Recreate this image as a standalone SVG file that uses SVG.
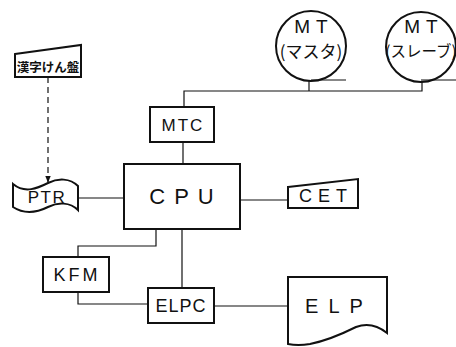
<svg xmlns="http://www.w3.org/2000/svg" width="456" height="347" viewBox="0 0 456 347">
<style>
.box{fill:#fff;stroke:#111;stroke-width:2}
.ln{fill:none;stroke:#111;stroke-width:1.2}
.t{font-family:"Liberation Sans",Arial,sans-serif;fill:#111;text-anchor:middle;dominant-baseline:central}
.j{font-family:"Noto Sans CJK JP",sans-serif;fill:#111;text-anchor:middle;dominant-baseline:central}
</style>
<defs>
<marker id="ah" viewBox="0 0 10 10" refX="9" refY="5" markerWidth="6" markerHeight="6" orient="auto">
<path d="M0,1 L10,5 L0,9 Z" fill="#111"/>
</marker>
</defs>
<rect width="456" height="347" fill="#fff"/>
<g id="connectors">
<path class="ln" d="M184,107 V91 H422 V80"/>
<path class="ln" d="M309,91 V80"/>
<path class="ln" d="M183,142 V164"/>
<path class="ln" d="M78,198 H124"/>
<path class="ln" d="M240,200 H288"/>
<path class="ln" d="M156,229 V246 H78 V257"/>
<path class="ln" d="M78,292 V304 H148"/>
<path class="ln" d="M182,229 V288"/>
<path class="ln" d="M214,306 H288"/>
<path class="ln" d="M48,77 V182" stroke-dasharray="6,4" marker-end="url(#ah)"/>
</g>
<g id="kanji">
<path class="box" d="M15,54 L81,45 L81,77 L15,77 Z"/>
<text class="j" x="48" y="66" font-size="12.5" font-weight="bold">漢字けん盤</text>
</g>
<g id="mt-master">
<circle class="box" cx="311" cy="46" r="35"/>
<path class="ln" d="M311,80 H346" stroke-width="2"/>
<text class="t" x="314" y="26" font-size="19" letter-spacing="6">MT</text>
<text class="j" x="311" y="50" font-size="17">(マスタ)</text>
</g>
<g id="mt-slave">
<circle class="box" cx="421" cy="47" r="35"/>
<path class="ln" d="M421,80 H456" stroke-width="2"/>
<text class="t" x="424" y="26" font-size="19" letter-spacing="6">MT</text>
<text class="j" x="421" y="50" font-size="15.5">(スレーブ)</text>
</g>
<g id="mtc">
<rect class="box" x="150" y="107" width="64" height="35"/>
<text class="t" x="183" y="125" font-size="17" letter-spacing="2">MTC</text>
</g>
<g id="ptr">
<path class="box" d="M13,184 C25,194 38,188 48,183 C58,178 70,178 78,186 L78,210 C70,202 58,202 48,207 C38,212 25,215 13,207 Z"/>
<text class="t" x="47" y="197" font-size="17" letter-spacing="1.5">PTR</text>
</g>
<g id="cpu">
<rect class="box" x="124" y="164" width="116" height="65"/>
<text class="t" x="186" y="196" font-size="22" letter-spacing="9">CPU</text>
</g>
<g id="cet">
<path class="box" d="M288,187 L358,179 L358,208 L288,208 Z"/>
<text class="t" x="326" y="196" font-size="18" letter-spacing="6">CET</text>
</g>
<g id="kfm">
<rect class="box" x="43" y="257" width="66" height="35"/>
<text class="t" x="77" y="275" font-size="18" letter-spacing="3">KFM</text>
</g>
<g id="elpc">
<rect class="box" x="148" y="288" width="66" height="35"/>
<text class="t" x="181" y="306" font-size="18" letter-spacing="1">ELPC</text>
</g>
<g id="elp">
<path class="box" d="M288,277 H387 V333 Q372,321 356,327 Q330,340 310,344 Q298,346 288,344 Z"/>
<text class="t" x="339" y="306" font-size="20" letter-spacing="10">ELP</text>
</g>
</svg>
